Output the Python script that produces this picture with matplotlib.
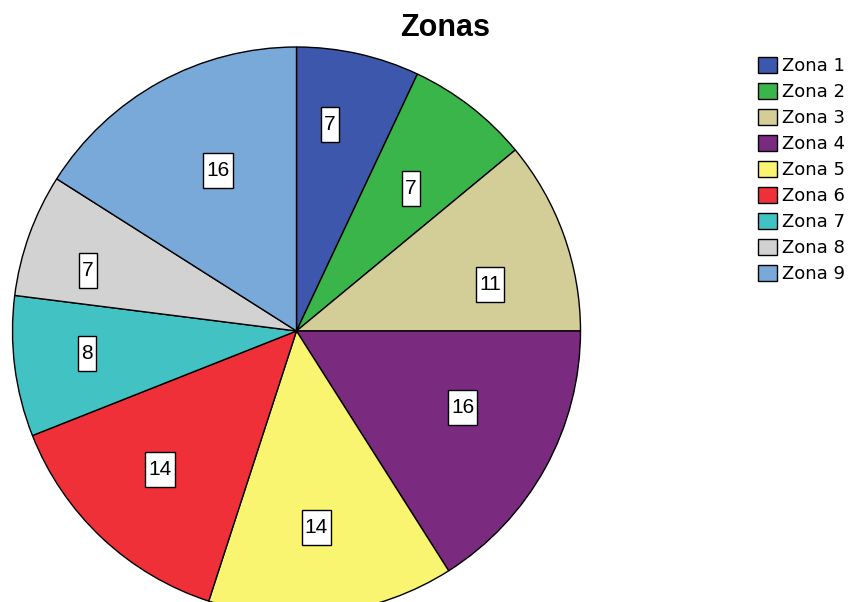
import matplotlib
matplotlib.use("Agg")
import numpy as np
import matplotlib.pyplot as plt
from matplotlib.path import Path

categories = ["Zona 1", "Zona 2", "Zona 3", "Zona 4", "Zona 5", "Zona 6", "Zona 7", "Zona 8", "Zona 9"]
values = [7, 7, 11, 16, 14, 14, 8, 7, 16]
colors = ["#3d57ad", "#3ab54a", "#d3ce97", "#7a2a7f", "#f9f570", "#ef3038", "#43c2c4", "#d2d2d2", "#79a9d8"]
title = "Zonas"

# label placement style (fraction of radius, clockwise angle shift in degrees)
label_dist = [0.735, 0.645, 0.70, 0.645, 0.697, 0.686, 0.742, 0.765, 0.63]
label_shift = [-3.4, 0.9, 6.4, -4.0, 1.5, 1.3, 1.2, -3.5, 2.8]

plt.rcParams['font.family'] = ['Liberation Sans', 'DejaVu Sans']

W, H = 853, 602
fig = plt.figure(figsize=(W / 100, H / 100), dpi=100)
ax = fig.add_axes([0, 0, 1, 1])

cx, cy, R = 296.5, H - 331, 284
wedges, _ = ax.pie(
    values, colors=colors, startangle=90, counterclock=False,
    center=(cx, cy), radius=R, frame=True,
    wedgeprops=dict(edgecolor='black', linewidth=1.0))
ax.set_xlim(0, W)
ax.set_ylim(0, H)
ax.set_aspect('equal')
ax.axis('off')


def label_box(x0, y0, width, height, mutation_size):
    px, py = 3.0, 8.0
    verts = [(x0 - px, y0 - py), (x0 + width + px, y0 - py),
             (x0 + width + px, y0 + height + py), (x0 - px, y0 + height + py),
             (x0 - px, y0 - py)]
    return Path(verts, closed=True)


for w, v, d, s in zip(wedges, values, label_dist, label_shift):
    ang = np.deg2rad((w.theta1 + w.theta2) / 2 - s)
    ax.text(cx + d * R * np.cos(ang), cy + d * R * np.sin(ang), f"{v}",
            ha='center', va='center', fontsize=15, color='black',
            bbox=dict(boxstyle=label_box, facecolor='white', edgecolor='black', linewidth=1.0))

fig.text(445 / W, 1 - 36 / H, title, ha='center', va='baseline', fontsize=22, fontweight='bold')

leg = fig.legend(wedges, categories, loc='upper left', bbox_to_anchor=(758 / W, 1 - 57 / H),
                 frameon=False, prop=dict(family='DejaVu Sans', size=13),
                 handlelength=1.05, handleheight=1.0,
                 labelspacing=0.43, handletextpad=0.3, borderaxespad=0, borderpad=0)

fig.savefig("out.png", dpi=100)
